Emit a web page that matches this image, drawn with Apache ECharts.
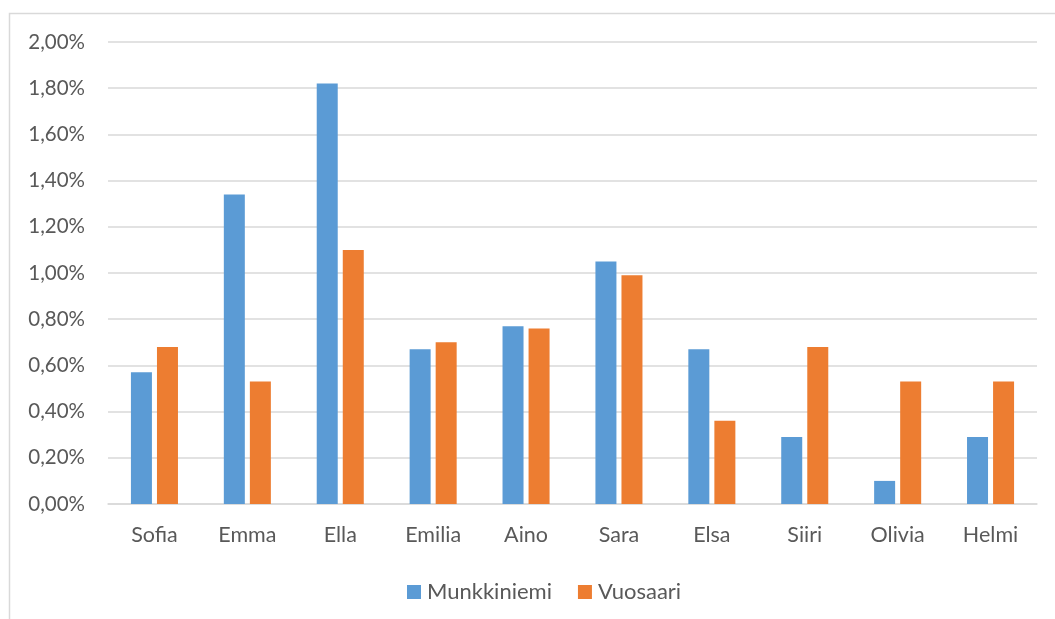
<!DOCTYPE html>
<html>
<head>
<meta charset="utf-8">
<script src="https://cdn.jsdelivr.net/npm/echarts@6/dist/echarts.min.js"></script>
<style>
  html, body { margin: 0; padding: 0; background: #fff; }
  #chart { width: 1055px; height: 619px; }
</style>
</head>
<body>
<div id="chart"></div>
<script>
// nimet ja osuudet (%)
var names = ['Sofia', 'Emma', 'Ella', 'Emilia', 'Aino', 'Sara', 'Elsa', 'Siiri', 'Olivia', 'Helmi'];
var munkkiniemi = [0.57, 1.34, 1.82, 0.67, 0.77, 1.05, 0.67, 0.29, 0.10, 0.29];
var vuosaari = [0.68, 0.53, 1.10, 0.70, 0.76, 0.99, 0.36, 0.68, 0.53, 0.53];
var seriesNames = ['Munkkiniemi', 'Vuosaari'];

var fontName = 'Lato, "Open Sans", sans-serif';
var chart = echarts.init(document.getElementById('chart'));

var option = {
    animation: false,
    color: ['#5B9BD5', '#ED7D31'],
    textStyle: { fontFamily: fontName },
    graphic: [
        {
            type: 'rect',
            shape: { x: 9.5, y: 13.5, width: 1200, height: 800 },
            style: { fill: 'none', stroke: '#d9d9d9', lineWidth: 1.5 },
            silent: true
        }
    ],
    grid: {
        left: 108,
        right: 18,
        top: 42,
        bottom: 115
    },
    legend: {
        top: 576,
        left: 402,
        itemWidth: 14,
        itemHeight: 14,
        itemGap: 26,
        icon: 'rect',
        textStyle: { fontSize: 22, color: '#595959', fontFamily: fontName, padding: [0, 0, 0, 1] },
        data: seriesNames
    },
    xAxis: {
        type: 'category',
        data: names,
        axisLine: { lineStyle: { color: '#d9d9d9', width: 1.5 } },
        axisTick: { show: false },
        axisLabel: { fontSize: 21.5, color: '#595959', margin: 20 }
    },
    yAxis: {
        type: 'value',
        min: 0,
        max: 2,
        interval: 0.2,
        axisLine: { show: false },
        axisTick: { show: false },
        splitLine: { lineStyle: { color: '#d9d9d9', width: 1.5 } },
        axisLabel: {
            fontSize: 20.5,
            color: '#595959',
            margin: 23,
            formatter: function(v) {
                return v.toFixed(2).replace('.', ',') + '%';
            }
        }
    },
    series: [
        {
            name: seriesNames[0],
            type: 'bar',
            barWidth: 21,
            barGap: '24%',
            data: munkkiniemi
        },
        {
            name: seriesNames[1],
            type: 'bar',
            barWidth: 21,
            barGap: '24%',
            data: vuosaari
        }
    ]
};
chart.setOption(option);
</script>
</body>
</html>
